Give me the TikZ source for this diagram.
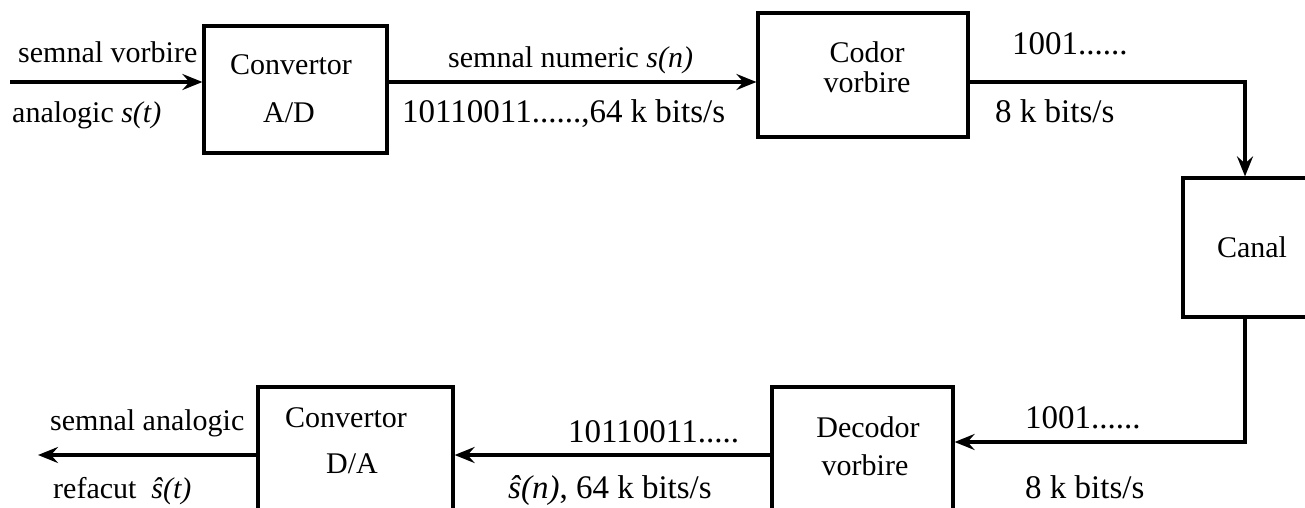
\documentclass[tikz,border=0pt]{standalone}
\usepackage{fontspec}
\setmainfont{Liberation Serif}
\usetikzlibrary{arrows.meta}
\begin{document}
\begin{tikzpicture}[x=1pt,y=-1pt,
  box/.style={draw,line width=3.2pt,inner sep=0pt},
  arr/.style={line width=3.2pt,-{Stealth[length=20pt,width=16pt,inset=7pt]}},
  txt/.style={font=\fontsize{30}{30}\selectfont,inner sep=0pt,anchor=base},
  lbl/.style={font=\fontsize{30}{30}\selectfont,inner sep=0pt,anchor=base west},
  num/.style={font=\fontsize{33}{33}\selectfont,inner sep=0pt,anchor=base west}]
\useasboundingbox (0,0) rectangle (1305,508);
% boxes
\node[box,minimum width=183pt,minimum height=127pt] (AD) at (295.5,89.5) {};
\node[box,minimum width=210pt,minimum height=124pt] (Codor) at (863,75) {};
\node[box,minimum width=124pt,minimum height=139pt] (Canal) at (1245,247.5) {};
\node[box,minimum width=181pt,minimum height=133pt] (Decodor) at (862.5,453.5) {};
\node[box,minimum width=195pt,minimum height=133pt] (DA) at (355.5,453.5) {};
% box texts
\node[txt] (tAD1) at (291,75) {Convertor};
\node[txt] (tAD2) at (289,122) {A/D};
\node[txt] (tCo1) at (867,63) {Codor};
\node[txt] (tCo2) at (867,93) {vorbire};
\node[txt] (tCa) at (1252,257) {Canal};
\node[txt] (tDe1) at (868,437) {Decodor};
\node[txt] (tDe2) at (865,475) {vorbire};
\node[txt] (tDA1) at (346,427) {Convertor};
\node[txt] (tDA2) at (352,473) {D/A};
% connector coordinates
\coordinate (in) at (10,82);
\coordinate (r1) at (1245,442);
\coordinate (b1) at (772,455);
\coordinate (out) at (38,455);
% connectors
\draw[arr] (in) -- (in -| AD.west);
\draw[arr] (AD.east |- in) -- (Codor.west |- in);
\draw[arr] (Codor.east |- in) -| (Canal.north);
\draw[arr] (Canal.south) |- (Decodor.east |- r1);
\draw[arr] (Decodor.west |- b1) -- (DA.east |- b1);
\draw[arr] (DA.west |- b1) -- (out);
% labels
\node[lbl] (l1) at (18,63) {semnal vorbire};
\node[lbl] (l2) at (12,122) {analogic \textit{s(t)}};
\node[lbl] (l3) at (448,68) {semnal numeric \textit{s(n)}};
\node[num] (l4) at (402,123) {10110011......,64 k bits/s};
\node[num] (l5) at (1012,55) {1001......};
\node[num] (l6) at (995,123) {8 k bits/s};
\node[num] (l7) at (1025,428) {1001......};
\node[num] (l8) at (1025,498) {8 k bits/s};
\node[num] (l9) at (568,442) {10110011.....};
\node[num] (l10) at (508,498) {\textit{ŝ(n)}, 64 k bits/s};
\node[lbl] (l11) at (50,430) {semnal analogic};
\node[lbl] (l12) at (53,498) {refacut \ \textit{ŝ(t)}};
\end{tikzpicture}
\end{document}
